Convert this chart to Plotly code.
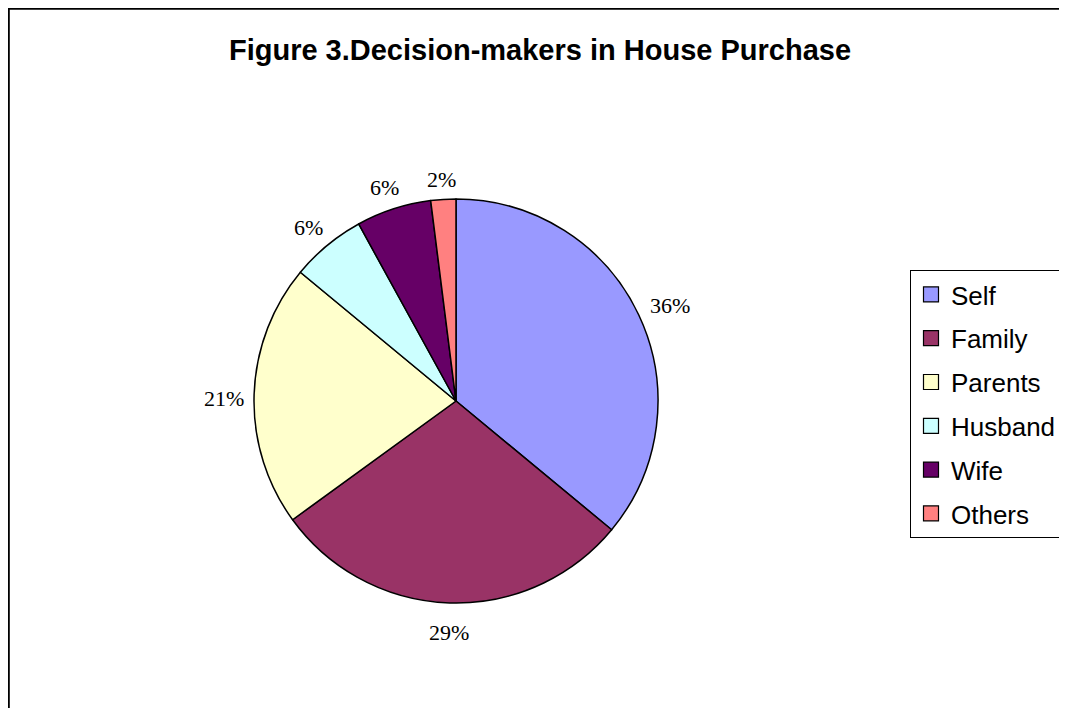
import math
import plotly.graph_objects as go

labels = ["Self", "Family", "Parents", "Husband", "Wife", "Others"]
values = [36, 29, 21, 6, 6, 2]
colors = ["#9999FF", "#993366", "#FFFFCC", "#CCFFFF", "#660066", "#FF8080"]

# page body has an 8px margin; the figure is sized so it fits the window
W, H = 1059, 700
OX, OY = 8, 8


def px(x):
    return (x - OX) / W


def py(y):
    return 1 - (y - OY) / H


# pie geometry (page pixels)
CX, CY, R = 456, 401, 202
LABEL_FONT = 22

fig = go.Figure()
fig.add_trace(go.Pie(
    labels=labels, values=values, sort=False, direction="clockwise", rotation=0,
    marker=dict(colors=colors, line=dict(color="black", width=1.5)),
    textinfo="none",
    domain=dict(x=[px(CX - R), px(CX + R)], y=[py(CY + R), py(CY - R)]),
    showlegend=False,
))

# legend entries (one per category, so the items can be spaced like the original)
for lab, col in zip(labels, colors):
    fig.add_trace(go.Scatter(
        x=[None], y=[None], mode="markers", name=lab, legendgroup=lab,
        marker=dict(symbol="square", size=15, color=col, line=dict(color="black", width=1.2)),
        showlegend=True,
    ))

# percentage labels placed outside each slice, derived from the values
total = sum(values)
annotations = []
cum = 0
for v in values:
    mid = (cum + v / 2) / total * 2 * math.pi
    cum += v
    pct = f"{round(v / total * 100)}%"
    hw = LABEL_FONT * (0.5 * (len(pct) - 1) + 0.833) / 2
    hh = 14
    d = R + 10 + abs(math.sin(mid)) * hw + abs(math.cos(mid)) * hh
    x = CX + d * math.sin(mid)
    y = CY - d * math.cos(mid) + 5
    annotations.append(dict(
        x=px(x), y=py(y), xref="paper", yref="paper", text=pct, showarrow=False,
        xanchor="center", yanchor="middle",
        font=dict(family="Liberation Serif", size=LABEL_FONT, color="black"),
    ))

fig.update_layout(
    width=W, height=H,
    margin=dict(l=0, r=0, t=0, b=0),
    paper_bgcolor="white", plot_bgcolor="white",
    xaxis=dict(visible=False), yaxis=dict(visible=False),
    title=dict(text="<b>Figure 3.Decision-makers in House Purchase</b>",
               x=px(540), xanchor="center", y=py(50), yanchor="middle",
               font=dict(family="Liberation Sans", size=29, color="black")),
    legend=dict(x=px(910), xanchor="left", y=py(270), yanchor="top",
                bordercolor="black", borderwidth=1, bgcolor="white",
                tracegroupgap=7, itemsizing="trace",
                font=dict(family="Liberation Sans", size=26, color="black")),
    annotations=annotations,
    shapes=[
        dict(type="line", xref="paper", yref="paper", x0=0, x1=1.01, y0=1 - 0.8 / H, y1=1 - 0.8 / H,
             line=dict(color="black", width=2)),
        dict(type="line", xref="paper", yref="paper", x0=0.8 / W, x1=0.8 / W, y0=-0.01, y1=1,
             line=dict(color="black", width=2)),
    ],
)

fig.write_html("out.html")
